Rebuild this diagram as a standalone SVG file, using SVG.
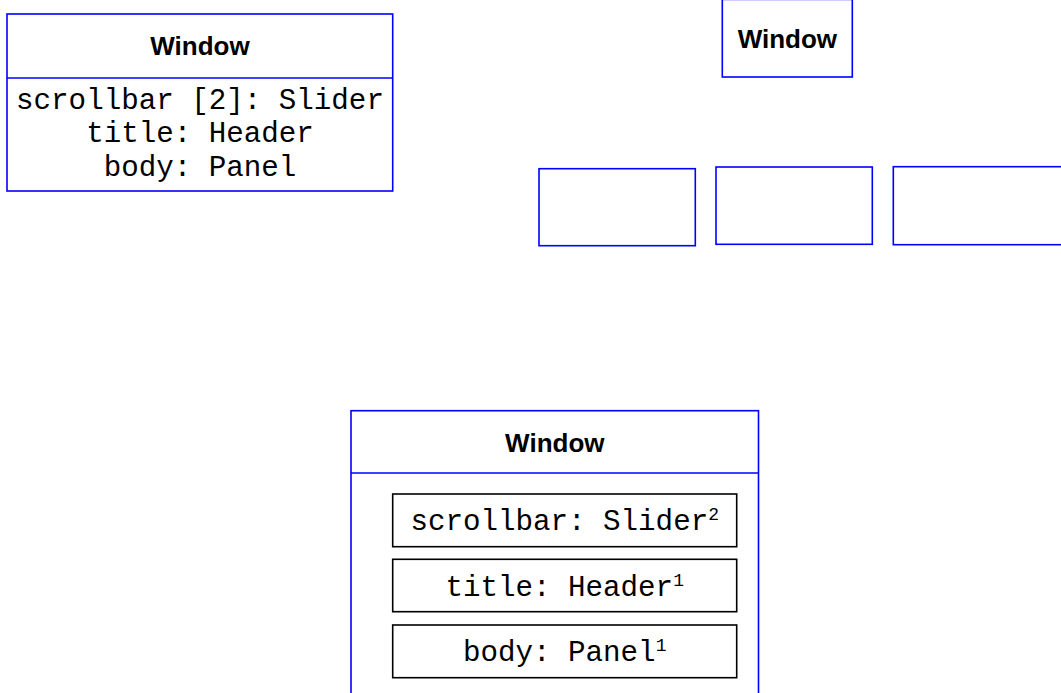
<svg xmlns="http://www.w3.org/2000/svg" width="1061" height="693" viewBox="0 0 1061 693">
<style>
.box{fill:#fff;stroke:#0000ff;stroke-width:1.6}
.part{fill:#fff;stroke:#000;stroke-width:1.6}
.div{stroke:#0000ff;stroke-width:1.6}
.title{font-family:"Liberation Sans",Arial,sans-serif;font-weight:bold;font-size:26px;fill:#000;text-anchor:middle}
.mono{font-family:"Courier New","Liberation Mono",monospace;font-size:29.2px;fill:#000;text-anchor:middle}
.sup{font-size:18px}
</style>
<rect width="1061" height="693" fill="#fff"/>
<g id="window-attrs">
<rect class="box" x="7" y="14" width="385.7" height="177"/>
<line class="div" x1="7" y1="78" x2="392.7" y2="78"/>
<text class="title" x="200" y="55">Window</text>
<text class="mono" x="200" y="108.5">scrollbar [2]: Slider</text>
<text class="mono" x="200" y="142">title: Header</text>
<text class="mono" x="200" y="175.6">body: Panel</text>
</g>
<g id="window-tree">
<rect class="box" x="722.3" y="-0.6" width="130" height="77.6"/>
<text class="title" x="787.4" y="47.7">Window</text>
</g>
<g id="part-a"><rect class="box" x="539" y="168.7" width="156.3" height="77"/></g>
<g id="part-b"><rect class="box" x="716" y="167" width="156.3" height="77.3"/></g>
<g id="part-c"><rect class="box" x="893.3" y="166.7" width="200" height="78"/></g>
<g id="window-composite">
<rect class="box" x="351" y="410.7" width="407.5" height="300"/>
<line class="div" x1="351" y1="473" x2="758.5" y2="473"/>
<text class="title" x="554.8" y="452">Window</text>
<g id="part-scrollbar">
<rect class="part" x="392.7" y="494" width="344" height="52.7"/>
<text class="mono" x="564.7" y="530">scrollbar: Slider<tspan class="sup" dy="-10">2</tspan></text>
</g>
<g id="part-title">
<rect class="part" x="392.7" y="559.3" width="344" height="52.4"/>
<text class="mono" x="564.7" y="596">title: Header<tspan class="sup" dy="-10">1</tspan></text>
</g>
<g id="part-body">
<rect class="part" x="392.7" y="625" width="344" height="52.7"/>
<text class="mono" x="564.7" y="661">body: Panel<tspan class="sup" dy="-10">1</tspan></text>
</g>
</g>
<g id="connectors"></g>
</svg>
